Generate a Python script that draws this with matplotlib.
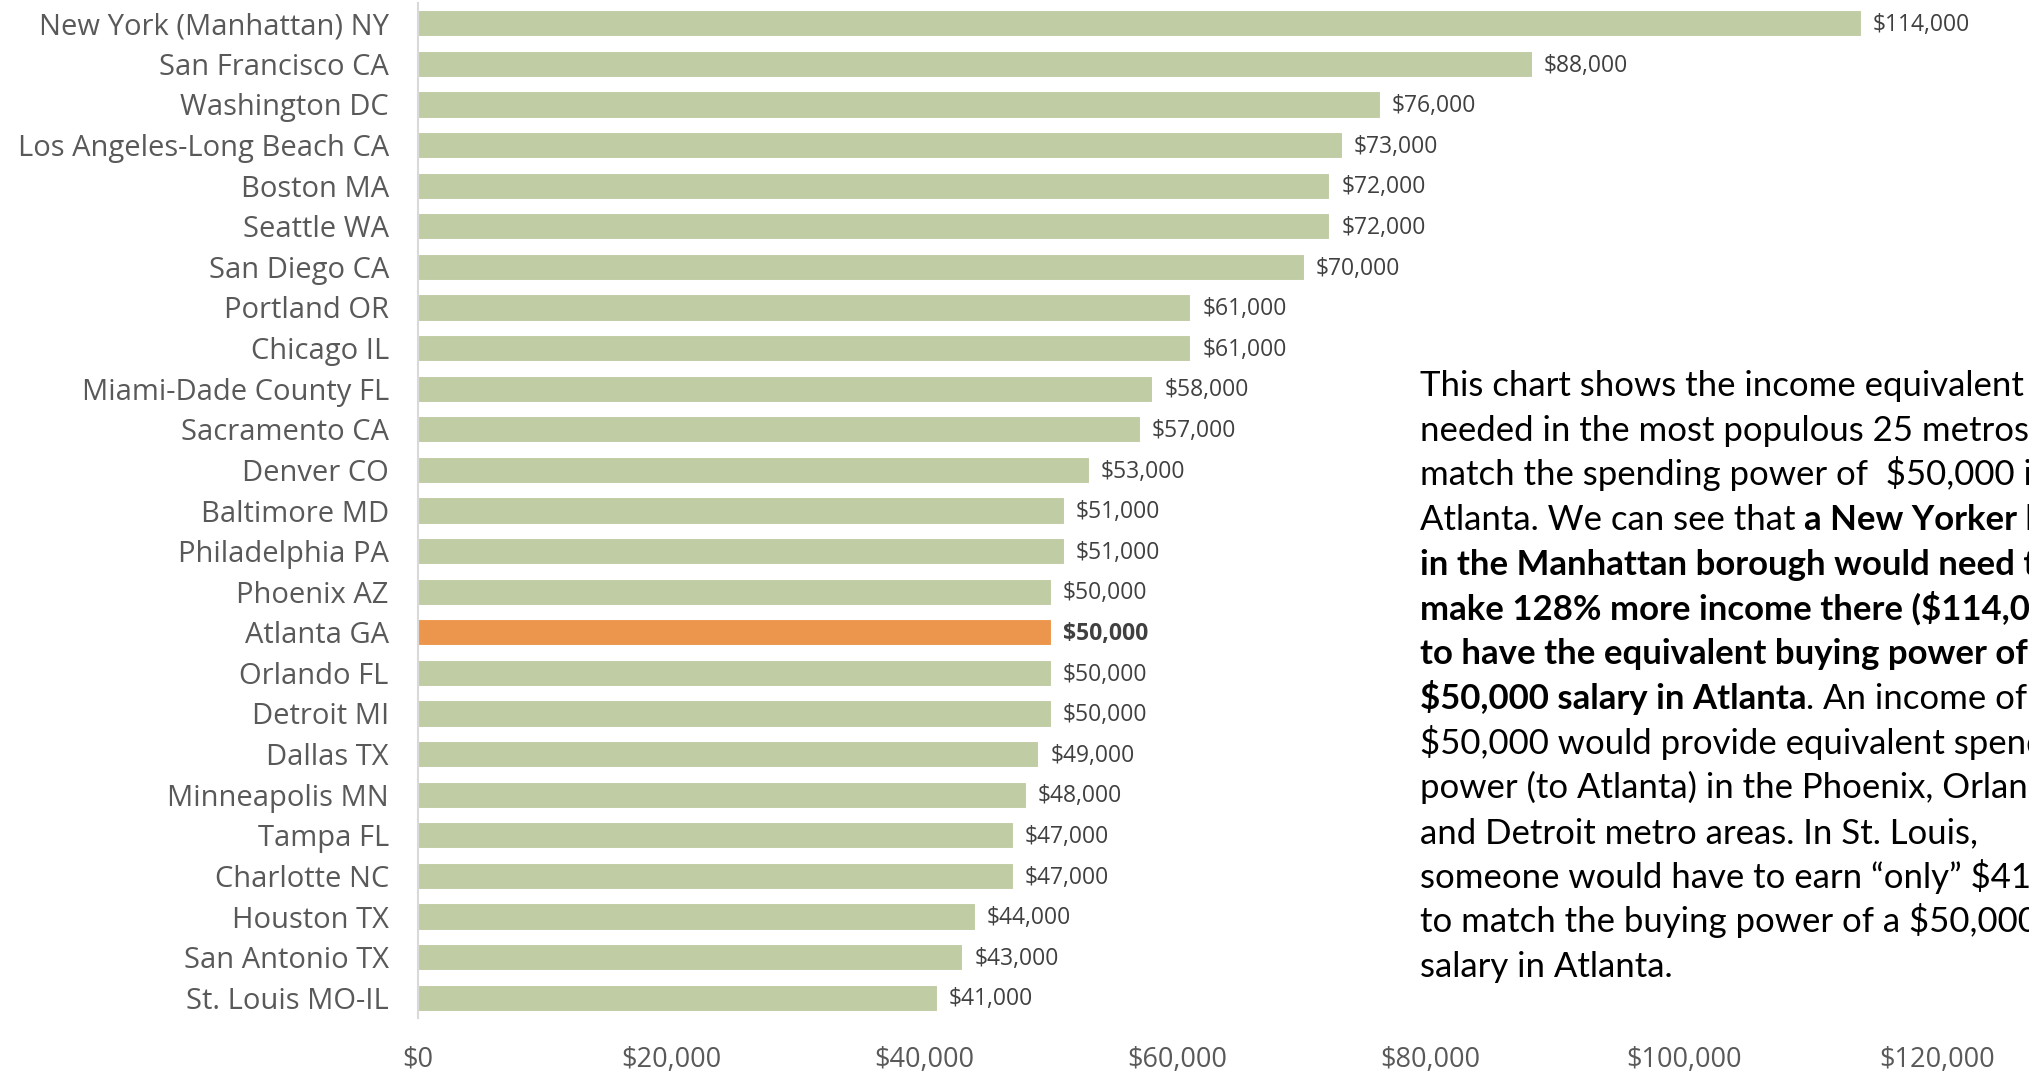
import matplotlib
matplotlib.use("Agg")
import matplotlib.pyplot as plt
from matplotlib.ticker import FuncFormatter

plt.rcParams['font.family'] = ['Lato', 'DejaVu Sans']

cities = ["New York (Manhattan) NY", "San Francisco CA", "Washington DC",
          "Los Angeles-Long Beach CA", "Boston MA", "Seattle WA", "San Diego CA",
          "Portland OR", "Chicago IL", "Miami-Dade County FL", "Sacramento CA",
          "Denver CO", "Baltimore MD", "Philadelphia PA", "Phoenix AZ", "Atlanta GA",
          "Orlando FL", "Detroit MI", "Dallas TX", "Minneapolis MN", "Tampa FL",
          "Charlotte NC", "Houston TX", "San Antonio TX", "St. Louis MO-IL"]
incomes = [114000, 88000, 76000, 73000, 72000, 72000, 70000, 61000, 61000, 58000,
           57000, 53000, 51000, 51000, 50000, 50000, 50000, 50000, 49000, 48000,
           47000, 47000, 44000, 43000, 41000]
highlight = "Atlanta GA"
xticks = [0, 20000, 40000, 60000, 80000, 100000, 120000]

note_lines = [
    [("This chart shows the income equivalent ", False)],
    [("needed in the most populous 25 metros to", False)],
    [("match the spending power of  $50,000 in", False)],
    [("Atlanta. We can see that ", False), ("a New Yorker living", True)],
    [("in the Manhattan borough would need to", True)],
    [("make 128% more income there ($114,000)", True)],
    [("to have the equivalent buying power of a", True)],
    [("$50,000 salary in Atlanta", True), (". An income of", False)],
    [("$50,000 would provide equivalent spending", False)],
    [("power (to Atlanta) in the Phoenix, Orlando,", False)],
    [("and Detroit metro areas. In St. Louis,", False)],
    [("someone would have to earn \u201conly\u201d $41,000", False)],
    [("to match the buying power of a $50,000", False)],
    [("salary in Atlanta.", False)],
]

GREEN = "#C0CCA3"
ORANGE = "#EC954C"
OPEN = ['Open Sans', 'DejaVu Sans']

W, H = 2029, 1071
fig = plt.figure(figsize=(W / 100, H / 100), dpi=100)
ax = fig.add_axes([418 / W, 1 - 1018 / H, (1937 - 418) / W, (1018 - 3) / H])

ypos = list(range(len(cities)))
colors = [ORANGE if c == highlight else GREEN for c in cities]
ax.barh(ypos, incomes, height=0.65, color=colors, edgecolor='white', linewidth=0.8)

for y, v, c in zip(ypos, incomes, cities):
    ax.text(v + 950, y + 0.04, f"${v:,.0f}", va='center', ha='left', fontsize=16.5,
            color='#404040', fontweight='bold' if c == highlight else 'normal',
            family=OPEN)

ax.set_xlim(0, 120000)
ax.set_ylim(len(cities) - 0.5, -0.5)
ax.set_yticks(ypos)
ax.set_yticklabels(cities, family=OPEN)
ax.set_xticks(xticks)
ax.xaxis.set_major_formatter(FuncFormatter(lambda v, p: f"${v:,.0f}"))
ax.tick_params(axis='y', length=0, pad=21, labelsize=21, labelcolor='#595959')
ax.tick_params(axis='x', length=0, pad=20, labelsize=19.5, labelcolor='#595959')
for lab in ax.get_xticklabels():
    lab.set_family(OPEN)
for s in ['top', 'right', 'bottom']:
    ax.spines[s].set_visible(False)
ax.spines['left'].set_color('#D9D9D9')
ax.spines['left'].set_linewidth(1.5)

# annotation text block with mixed weights
fig.canvas.draw()
r = fig.canvas.get_renderer()
x0 = 1420 / W
y0 = 1 - 396 / H
dy = 44.7 / H
fs = 25.0

def seg_width(s, bold):
    w = 'bold' if bold else 'normal'
    t1 = fig.text(0, 0, s + "|", fontsize=fs, fontweight=w)
    t2 = fig.text(0, 0, "|", fontsize=fs, fontweight=w)
    wd = t1.get_window_extent(r).width - t2.get_window_extent(r).width
    t1.remove(); t2.remove()
    return wd

for i, segs in enumerate(note_lines):
    x = x0
    y = y0 - i * dy
    for s, b in segs:
        fig.text(x, y, s, fontsize=fs, fontweight='bold' if b else 'normal',
                 va='baseline', ha='left', color='black')
        x += seg_width(s, b) / W

fig.savefig("out.png", dpi=100)
